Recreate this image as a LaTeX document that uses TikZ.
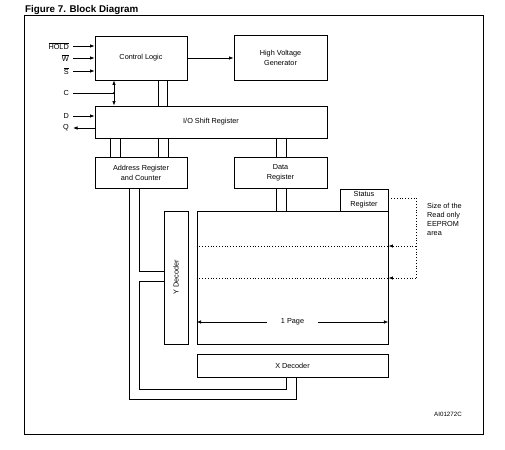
\documentclass[tikz,border=0pt]{standalone}
\usepackage{fontspec}
\setmainfont{Liberation Sans}
\usetikzlibrary{arrows.meta}
\begin{document}
\begin{tikzpicture}[x=1pt,y=-1pt,
  box/.style={draw,line width=0.9pt,inner sep=0pt,align=center,font=\fontsize{7.3}{9.8}\selectfont},
  lbl/.style={inner sep=0pt,font=\fontsize{7.3}{9.8}\selectfont},
  wire/.style={line width=0.9pt},
  arr/.style={line width=0.7pt,-{Latex[length=4.5pt,width=3.5pt]}},
  darr/.style={line width=0.7pt,{Latex[length=4.5pt,width=3.5pt]}-{Latex[length=4.5pt,width=3.5pt]}},
  dots/.style={line width=0.8pt,dotted}]
\useasboundingbox (0,0) rectangle (505,449);
% frame
\draw[line width=0.8pt] (24,15) rectangle (483,434);
\node[anchor=base west,inner sep=0pt,font=\fontsize{9.8}{11}\selectfont\bfseries] (title) at (25,12.3) {Figure 7. Block Diagram};
% boxes
\node[box,minimum width=92pt,minimum height=44pt] (cl) at (141,58) {Control Logic};
\node[box,minimum width=93pt,minimum height=45pt] (hv) at (280.5,57.5) {High Voltage\\Generator};
\node[box,minimum width=232pt,minimum height=32pt] (io) at (211,122) {I/O Shift Register};
\node[box,minimum width=92pt,minimum height=31pt] (ar) at (141,172.5) {Address Register\\and Counter};
\node[box,minimum width=93pt,minimum height=31pt] (dr) at (280.5,172.5) {Data\\Register};
\node[box,minimum width=191pt,minimum height=133pt] (mem) at (292.5,277.5) {};
\node[box,minimum width=48pt,minimum height=22pt] (sr) at (364,200) {Status\\Register};
\node[box,minimum width=24pt,minimum height=133pt] (yd) at (176,277.5) {};
\node[lbl,rotate=90] (ydt) at (yd.center) {Y Decoder};
\node[box,minimum width=191pt,minimum height=23pt] (xd) at (292.5,365.5) {X Decoder};
% input labels
\node[lbl,anchor=east] (hold) at (69,46) {$\overline{\hbox{HOLD}}$};
\node[lbl,anchor=east] (w) at (69,58) {$\overline{\hbox{W}}$};
\node[lbl,anchor=east] (s) at (69,71) {$\overline{\hbox{S}}$};
\node[lbl,anchor=east] (c) at (69,93) {C};
\node[lbl,anchor=east] (d) at (69,116) {D};
\node[lbl,anchor=east] (q) at (69,128) {Q};
\draw[arr] ([xshift=4pt]hold.east) -- (hold -| cl.west);
\draw[arr] ([xshift=4pt]w.east) -- (w -| cl.west);
\draw[arr] ([xshift=4pt]s.east) -- (s -| cl.west);
\coordinate (jc) at (114,93);
\draw[line width=0.7pt] ([xshift=4pt]c.east) -- (jc);
\fill (jc) circle (1.1pt);
\draw[darr] (jc |- cl.south) -- (jc |- io.north);
\draw[arr] ([xshift=4pt]d.east) -- (d -| io.west);
\draw[arr] (q -| io.west) -- ([xshift=4pt]q.east);
\draw[arr] (cl.east) -- (cl.east -| hv.west);
% buses
\foreach \x in {158,167} \draw[wire] (\x,0 |- cl.south) -- (\x,0 |- io.north);
\foreach \x in {110,120,158,168} \draw[wire] (\x,0 |- io.south) -- (\x,0 |- ar.north);
\foreach \x in {276,286} \draw[wire] (\x,0 |- io.south) -- (\x,0 |- dr.north);
\foreach \x in {276,286} \draw[wire] (\x,0 |- dr.south) -- (\x,0 |- mem.north);
\draw[wire] (129,0 |- ar.south) -- (129,399) -- (296,399) -- (296,0 |- xd.south);
\draw[wire] (139,0 |- ar.south) -- (139,271) -- (yd.west |- 0,271);
\draw[wire] (yd.west |- 0,281) -- (139,281) -- (139,389) -- (286,389) -- (286,0 |- xd.south);
% dotted
\draw[dots] (mem.west |- 0,246) -- (mem.east |- 0,246);
\draw[dots] (mem.west |- 0,278) -- (mem.east |- 0,278);
\coordinate (dr1) at (416,246);
\draw[dots] (sr.east |- 0,198) -- (416,198) -- (416,278);
\draw[dots,-{Latex[length=4.5pt,width=3.5pt]}] (dr1) -- (mem.east |- dr1);
\draw[dots,-{Latex[length=4.5pt,width=3.5pt]}] (416,278) -- (mem.east |- 0,278);
\node[lbl,anchor=north west,align=left,font=\fontsize{7.3}{9}\selectfont] (size) at (427,203) {Size of the\\Read only\\EEPROM\\area};
% 1 page
\draw[darr] (mem.west |- 0,322) -- (mem.east |- 0,322);
\node[lbl,fill=white,minimum width=51pt,minimum height=8pt] (pg) at (292.5,322) {1 Page};
\node[lbl,font=\fontsize{6.2}{7}\selectfont] (ai) at (448,414) {AI01272C};
\end{tikzpicture}
\end{document}
